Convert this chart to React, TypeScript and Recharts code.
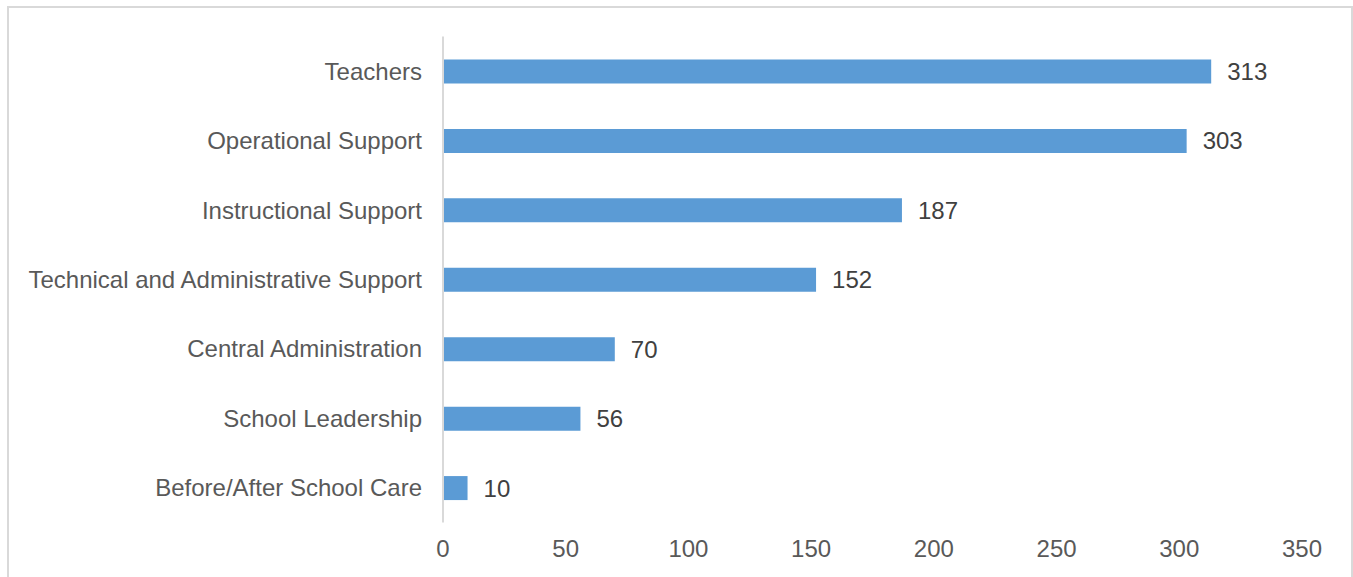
import React from "react";
import { BarChart, Bar, XAxis, YAxis, LabelList } from "recharts";

const categories = [
  "Teachers",
  "Operational Support",
  "Instructional Support",
  "Technical and Administrative Support",
  "Central Administration",
  "School Leadership",
  "Before/After School Care",
];
const staffCounts = [313, 303, 187, 152, 70, 56, 10];
const xTicks = [0, 50, 100, 150, 200, 250, 300, 350];

const FONT = "Arial, 'Liberation Sans', sans-serif";
const FS = 24;

export default function App() {
  const data = categories.map((name, i) => ({ name, value: staffCounts[i] }));

  return (
    <div
      style={{
        position: "absolute",
        left: 7,
        top: 6,
        width: 1342,
        height: 571,
        borderTop: "2px solid #d9d9d9",
        borderLeft: "2px solid #d9d9d9",
        borderRight: "2px solid #d9d9d9",
        background: "#fff",
        fontFamily: FONT,
      }}
    >
      <BarChart
        width={1342}
        height={569}
        data={data}
        layout="vertical"
        margin={{ top: 28.5, right: 49, bottom: 24.5, left: 0 }}
        barCategoryGap={0}
      >
        <XAxis
          type="number"
          domain={[0, 350]}
          ticks={xTicks}
          axisLine={false}
          tickLine={false}
          tickSize={0}
          tickMargin={17}
          height={30}
          tick={{ fill: "#595959", fontSize: FS, fontFamily: FONT }}
        />
        <YAxis
          type="category"
          dataKey="name"
          width={434}
          axisLine={{ stroke: "#d9d9d9", strokeWidth: 2 }}
          tickLine={false}
          tickSize={0}
          tickMargin={21}
          interval={0}
          tick={{ fill: "#595959", fontSize: FS, fontFamily: FONT }}
        />
        <Bar dataKey="value" fill="#5b9bd5" barSize={24} isAnimationActive={false}>
          <LabelList
            dataKey="value"
            position="right"
            offset={16}
            fill="#404040"
            fontSize={FS}
            fontFamily={FONT}
          />
        </Bar>
      </BarChart>
    </div>
  );
}
